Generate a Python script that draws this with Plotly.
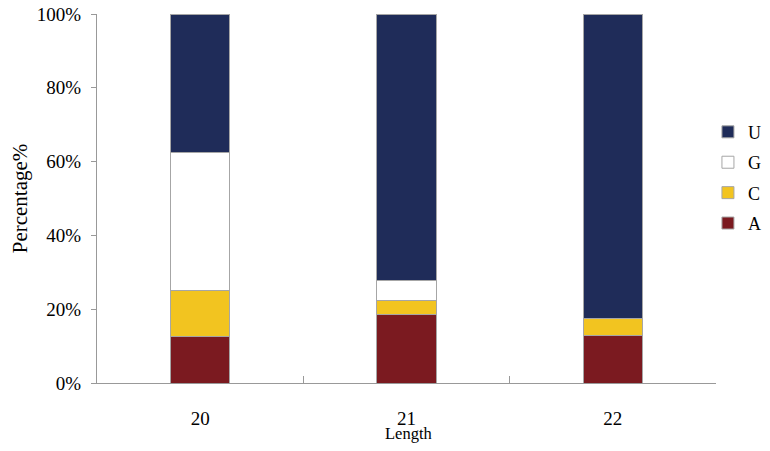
import plotly.graph_objects as go

lengths = ["20", "21", "22"]
pct_A = [12.5, 18.5, 13.0]
pct_C = [12.5, 3.8, 4.4]
pct_G = [37.5, 5.5, 0.0]
pct_U = [37.5, 72.2, 82.6]

series = [
    ("A", pct_A, "#7B1A20", 4),
    ("C", pct_C, "#F2C420", 3),
    ("G", pct_G, "#FFFFFF", 2),
    ("U", pct_U, "#1F2C59", 1),
]

fig = go.Figure()
for name, vals, col, rank in series:
    fig.add_trace(go.Bar(
        x=lengths, y=vals, name=name, legendgroup=name, legendrank=rank,
        marker=dict(color=col, line=dict(color="#A6A6A6", width=1)),
    ))

font = "Times New Roman, Liberation Serif, serif"

# page body has an 8px margin, so the figure is shrunk by that much
fig.update_layout(
    width=762, height=443,
    barmode="stack", bargap=0.714,
    plot_bgcolor="white", paper_bgcolor="white",
    font=dict(family=font, size=19, color="black"),
    margin=dict(l=89, r=54, t=6, b=68, autoexpand=False),
    legend=dict(
        x=0.987, y=0.73, xanchor="left", yanchor="top",
        traceorder="grouped", tracegroupgap=4,
        font=dict(size=18), bgcolor="rgba(0,0,0,0)",
    ),
)

fig.add_annotation(
    text="Length", xref="paper", yref="paper", x=0.503, y=-0.138,
    xanchor="center", yanchor="middle", showarrow=False,
    font=dict(size=16.5),
)

fig.update_xaxes(
    type="category", range=[-0.5, 2.5],
    showline=True, linecolor="#999999", linewidth=1,
    ticks="inside", tickson="boundaries", ticklen=7, tickcolor="#999999",
    ticklabelstandoff=18,
    showgrid=False, zeroline=False,
)
fig.update_yaxes(
    range=[0, 100], dtick=20, ticksuffix="%",
    showline=True, linecolor="#999999", linewidth=1,
    ticks="outside", ticklen=5, tickcolor="#999999",
    ticklabelstandoff=6, ticklabeloverflow="allow",
    title=dict(text="Percentage%", font=dict(size=21), standoff=17),
    showgrid=False, zeroline=False,
)

fig.write_html("out.html")
